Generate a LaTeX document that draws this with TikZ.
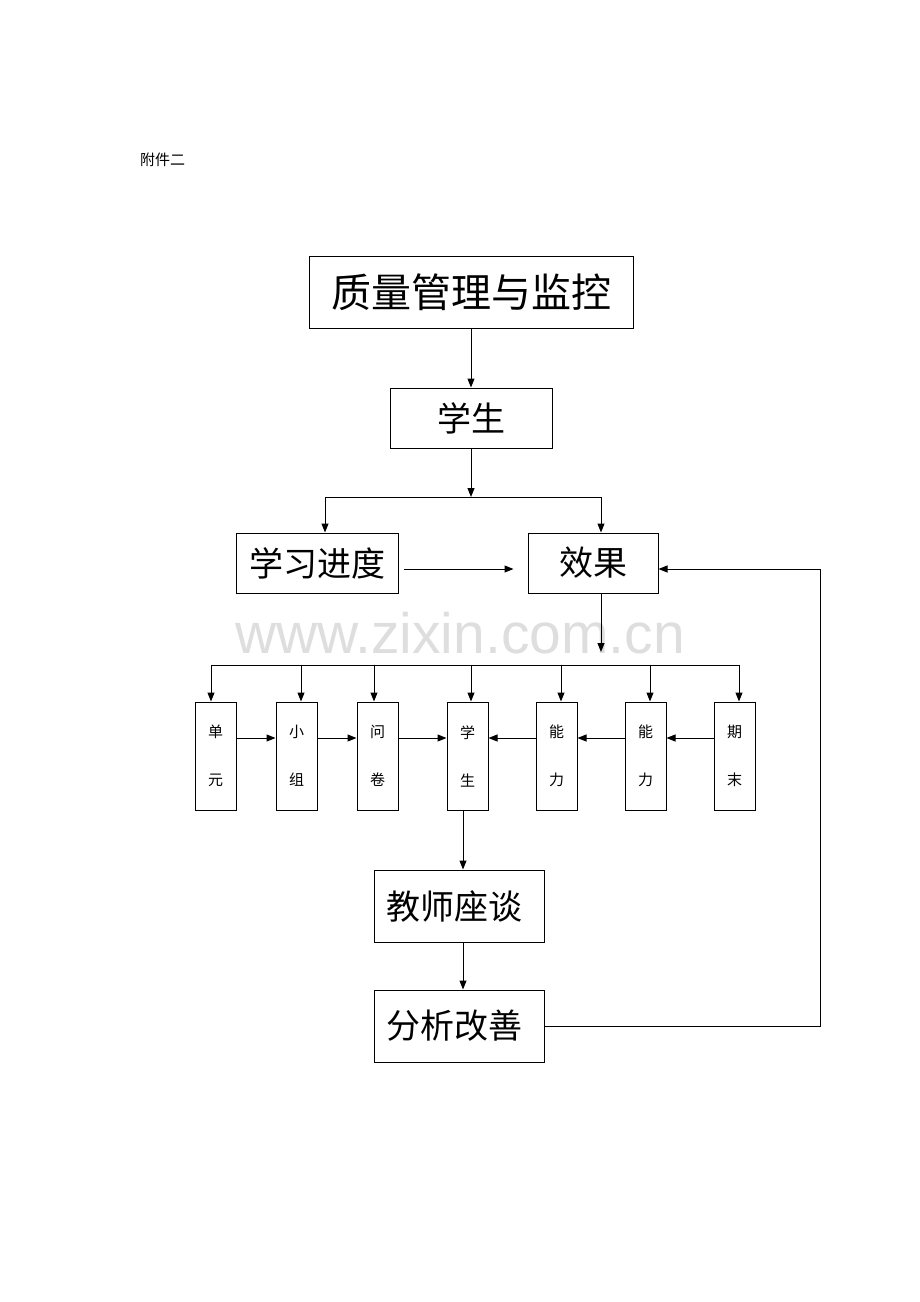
\documentclass[tikz,border=0pt]{standalone}
\usepackage{fontspec}
\setmainfont{Liberation Serif}
\newfontfamily\cjk{Noto Sans CJK SC}
\newfontfamily\wmfont{Liberation Sans}
\usetikzlibrary{arrows.meta}
\usetikzlibrary{positioning}

\tikzset{
	bigbox/.style={draw, line width=1pt, inner sep=0pt, font=\cjk\fontsize{34}{34}\selectfont},
	smallbox/.style={draw, line width=1pt, inner sep=0pt, minimum width=41pt, minimum height=108pt,
		align=center, font=\cjk\fontsize{15}{48}\selectfont},
	link/.style={line width=1pt, -{Triangle[length=9pt,width=7pt]}},
	plain/.style={line width=1pt},
}

\begin{document}
\begin{tikzpicture}[x=1pt, y=-1pt]
\useasboundingbox (0,0) rectangle (920,1302);

\node[text=black!13, font=\wmfont\fontsize{57}{57}\selectfont] (wm) at (460,633) {www.zixin.com.cn};
\node[anchor=west, inner sep=0pt, font=\cjk\fontsize{15}{15}\selectfont] (fj) at (140,160) {附件二};

% top part
\node[bigbox, minimum width=324pt, minimum height=72pt, font=\cjk\fontsize{40}{40}\selectfont] (zl) at (471,292) {质量管理与监控};
\node[bigbox, minimum width=162pt, minimum height=60pt] (xs) at (471,418) {学生};
\node[bigbox, minimum width=162pt, minimum height=60pt] (jd) at (317,563) {学习进度};
\node[bigbox, minimum width=130pt, minimum height=60pt] (xg) at (593,563) {效果};

\draw[link] (zl) -- (xs);
\coordinate (fork) at (471,497);
\coordinate (fl) at (325,497);
\coordinate (fr) at (601,497);
\draw[link] (xs) -- (fork);
\draw[plain] (fl) -- (fr);
\draw[link] (fl) -- (fl |- jd.north);
\draw[link] (fr) -- (fr |- xg.north);
\draw[link] ([xshift=5pt,yshift=-6pt]jd.east) -- ([xshift=-14pt,yshift=-6pt]xg.west);

% row of small boxes
\node[smallbox] (dy) at (215.5,756) {单\\元};
\node[smallbox] (xz) at (296.5,756) {小\\组};
\node[smallbox] (wj) at (377.5,756) {问\\卷};
\node[smallbox] (xs2) at (467.5,756) {学\\生};
\node[smallbox] (nl1) at (556.5,756) {能\\力};
\node[smallbox] (nl2) at (645.5,756) {能\\力};
\node[smallbox] (qm) at (734.5,756) {期\\末};

\coordinate (xgend) at (601,652);
\draw[link] (xg.south -| xgend) -- (xgend);
\coordinate (bl) at (211,665);
\coordinate (br) at (739,665);
\draw[plain] (bl) -- (br);
\foreach \b/\dx in {dy/-4.5, xz/4.5, wj/-3.5, xs2/3.5, nl1/4.5, nl2/4.5, qm/4.5}
	\draw[link] ([xshift=\dx pt, yshift=37pt]\b.north) -- ([xshift=\dx pt]\b.north);

\draw[link] ([yshift=18pt]dy.east) -- ([yshift=18pt]xz.west);
\draw[link] ([yshift=18pt]xz.east) -- ([yshift=18pt]wj.west);
\draw[link] ([yshift=18pt]wj.east) -- ([yshift=18pt]xs2.west);
\draw[link] ([yshift=18pt]nl1.west) -- ([yshift=18pt]xs2.east);
\draw[link] ([yshift=18pt]nl2.west) -- ([yshift=18pt]nl1.east);
\draw[link] ([yshift=18pt]qm.west) -- ([yshift=18pt]nl2.east);

% bottom part
\node[bigbox, minimum width=170pt, minimum height=72pt] (js) at (459,906) {教师座谈\hspace*{10pt}};
\node[bigbox, minimum width=170pt, minimum height=72pt] (fx) at (459,1026) {分析改善\hspace*{10pt}};

\coordinate (kx) at (463,0);
\draw[link] (xs2.south -| kx) -- (js.north -| kx);
\draw[link] (js.south -| kx) -- (fx.north -| kx);

\coordinate (fbr) at (820,0);
\coordinate (fby) at (0,569);
\draw[link] (fx.east) -- (fx.east -| fbr) -- (fbr |- fby) -- (xg.east |- fby);
\end{tikzpicture}
\end{document}
